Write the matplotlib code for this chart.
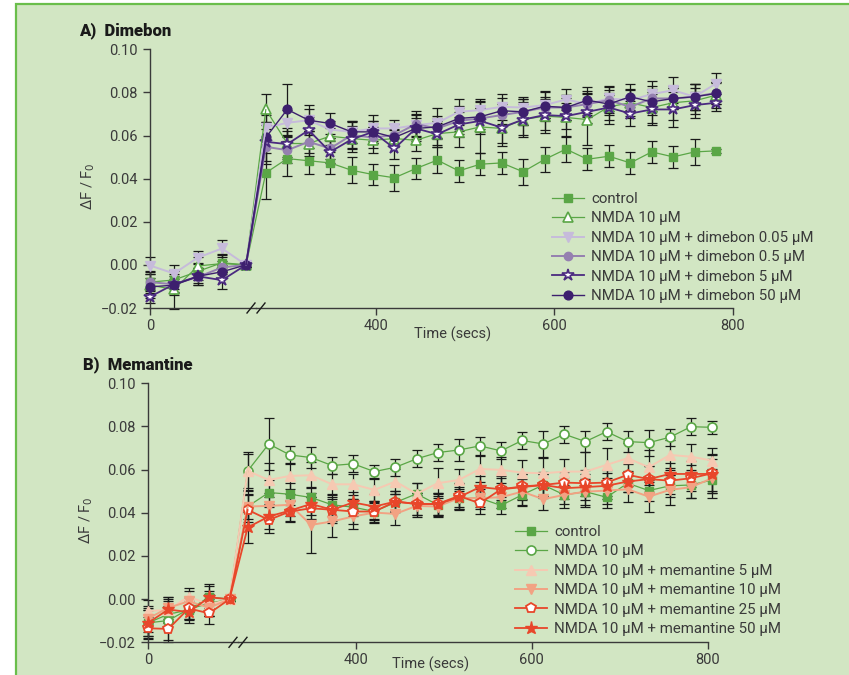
import matplotlib
matplotlib.use("Agg")
import matplotlib.pyplot as plt
from matplotlib.patches import ConnectionPatch, Rectangle

# time points (s): baseline before the break, then after NMDA addition
t_pre = [0, 24, 48, 72, 96]
t_post = [277, 301, 325, 349, 373, 397, 421, 445, 469, 493, 517, 541,
          565, 589, 613, 637, 661, 685, 709, 733, 757, 781, 805]
n_post_a = 22
n_post_b = 23

y_ticks = [-0.02, 0.0, 0.02, 0.04, 0.06, 0.08, 0.10]
x_ticks_left = [0]
x_ticks_right = [400, 600, 800]

# ---- panel A: dimebon ----
labels_a = ["control", "NMDA 10 \u00b5M",
            "NMDA 10 \u00b5M + dimebon 0.05 \u00b5M",
            "NMDA 10 \u00b5M + dimebon 0.5 \u00b5M",
            "NMDA 10 \u00b5M + dimebon 5 \u00b5M",
            "NMDA 10 \u00b5M + dimebon 50 \u00b5M"]
control_a = [-0.008, -0.007, -0.003, 0.001, 0.0,
             0.0427, 0.0493, 0.0483, 0.0473, 0.0439, 0.0419, 0.0404, 0.0447,
             0.0486, 0.0436, 0.0467, 0.0473, 0.0432, 0.0489, 0.0537, 0.0490,
             0.0504, 0.0473, 0.0524, 0.0501, 0.0524, 0.0529]
nmda_a = [-0.0094, -0.0114, -0.0005, 0.0006, 0.0,
          0.0721, 0.0563, 0.0563, 0.0597, 0.0586, 0.0578, 0.0586, 0.0578,
          0.0609, 0.0617, 0.0640, 0.0633, 0.0674, 0.0690, 0.0684, 0.0674,
          0.0733, 0.0752, 0.0730, 0.0752, 0.0761, 0.0787]
dim005 = [-0.0003, -0.004, 0.0034, 0.0076, 0.0,
          0.0637, 0.0659, 0.0671, 0.0628, 0.0617, 0.0633, 0.0633, 0.0648,
          0.0659, 0.0710, 0.0718, 0.0733, 0.0730, 0.0741, 0.0767, 0.0746,
          0.0772, 0.0764, 0.0792, 0.0810, 0.0780, 0.0841]
dim05 = [-0.008, -0.009, -0.0056, -0.0012, 0.0,
         0.0548, 0.0532, 0.0571, 0.0540, 0.0602, 0.0591, 0.0602, 0.0653,
         0.0633, 0.0668, 0.0679, 0.0695, 0.0710, 0.0730, 0.0730, 0.0746,
         0.0764, 0.0733, 0.0772, 0.0772, 0.0780, 0.0798]
dim5 = [-0.0148, -0.009, -0.0053, -0.0071, 0.0,
        0.0571, 0.0560, 0.0625, 0.0524, 0.0582, 0.0617, 0.0540, 0.0633,
        0.0606, 0.0651, 0.0668, 0.0637, 0.0674, 0.0695, 0.0690, 0.0710,
        0.0730, 0.0702, 0.0721, 0.0721, 0.0741, 0.0752]
dim50 = [-0.0102, -0.0094, -0.0053, -0.0032, 0.0,
         0.0591, 0.0721, 0.0671, 0.0656, 0.0617, 0.0617, 0.0591, 0.0633,
         0.0640, 0.0679, 0.0687, 0.0715, 0.0710, 0.0736, 0.0730, 0.0764,
         0.0746, 0.0780, 0.0756, 0.0772, 0.0780, 0.0795]

control_a_err = [0.005, 0.004, 0.004, 0.004, 0.001,
                 0.012, 0.008, 0.006, 0.005, 0.006, 0.005, 0.006, 0.005, 0.006,
                 0.005, 0.005, 0.005, 0.006, 0.006, 0.006, 0.005, 0.005, 0.005,
                 0.005, 0.005, 0.006, 0.001]
nmda_a_err = [0.006, 0.009, 0.004, 0.004, 0.001,
              0.007, 0.007, 0.006, 0.004, 0.005, 0.006, 0.004, 0.005, 0.006,
              0.007, 0.012, 0.008, 0.007, 0.008, 0.009, 0.012, 0.008, 0.006,
              0.007, 0.008, 0.006, 0.006]
dim005_err = [0.004, 0.004, 0.003, 0.004, 0.001,
              0.006, 0.006, 0.005, 0.004, 0.005, 0.006, 0.004, 0.005, 0.007,
              0.006, 0.005, 0.006, 0.005, 0.006, 0.005, 0.006, 0.006, 0.005,
              0.006, 0.006, 0.006, 0.005]
dim05_err = [0.004, 0.004, 0.003, 0.003, 0.001,
             0.008, 0.006, 0.005, 0.005, 0.006, 0.005, 0.005, 0.006, 0.005,
             0.006, 0.005, 0.005, 0.006, 0.005, 0.006, 0.005, 0.006, 0.005,
             0.006, 0.005, 0.006, 0.005]
dim5_err = [0.003, 0.005, 0.004, 0.004, 0.001,
            0.009, 0.006, 0.006, 0.005, 0.006, 0.005, 0.005, 0.005, 0.005,
            0.006, 0.006, 0.007, 0.008, 0.007, 0.006, 0.005, 0.006, 0.006,
            0.007, 0.008, 0.006, 0.004]
dim50_err = [0.004, 0.003, 0.004, 0.003, 0.001,
             0.007, 0.012, 0.007, 0.005, 0.005, 0.005, 0.004, 0.006, 0.005,
             0.006, 0.007, 0.006, 0.006, 0.007, 0.006, 0.006, 0.005, 0.006,
             0.006, 0.005, 0.006, 0.005]

# ---- panel B: memantine ----
labels_b = ["control", "NMDA 10 \u00b5M",
            "NMDA 10 \u00b5M + memantine 5 \u00b5M",
            "NMDA 10 \u00b5M + memantine 10 \u00b5M",
            "NMDA 10 \u00b5M + memantine 25 \u00b5M",
            "NMDA 10 \u00b5M + memantine 50 \u00b5M"]
control_b = [-0.011, -0.007, -0.005, 0.001, 0.0,
             0.0429, 0.0494, 0.0486, 0.0471, 0.0437, 0.0426, 0.0406, 0.0448,
             0.0488, 0.0437, 0.0468, 0.0468, 0.0434, 0.0483, 0.0529, 0.0483,
             0.0498, 0.0472, 0.0537, 0.0503, 0.0525, 0.0529, 0.0552]
nmda_b = [-0.011, -0.0099, -0.0046, -0.002, 0.0,
          0.0594, 0.0719, 0.0668, 0.0656, 0.0619, 0.0627, 0.0591, 0.0611,
          0.0650, 0.0679, 0.0691, 0.0710, 0.0687, 0.0735, 0.0719, 0.0764,
          0.0730, 0.0776, 0.0730, 0.0725, 0.0750, 0.0799, 0.0796]
mem5 = [-0.0055, -0.005, 0.0012, -0.0026, 0.0,
        0.0594, 0.0552, 0.0571, 0.0574, 0.0532, 0.0532, 0.0506, 0.0545,
        0.0488, 0.0537, 0.0552, 0.0603, 0.0599, 0.0586, 0.0583, 0.0591,
        0.0591, 0.0622, 0.0653, 0.0611, 0.0668, 0.0660, 0.0642]
mem10 = [-0.009, -0.004, -0.001, -0.004, 0.0,
         0.0429, 0.0432, 0.0437, 0.0344, 0.0360, 0.0383, 0.0401, 0.0395,
         0.0432, 0.0429, 0.0468, 0.0468, 0.0472, 0.0498, 0.0463, 0.0483,
         0.0498, 0.0503, 0.0509, 0.0475, 0.0506, 0.0519, 0.0560]
mem25 = [-0.0135, -0.0138, -0.0043, -0.0066, 0.0,
         0.0414, 0.0367, 0.0406, 0.0421, 0.0414, 0.0406, 0.0406, 0.0452,
         0.0441, 0.0441, 0.0478, 0.0444, 0.0509, 0.0522, 0.0529, 0.0540,
         0.0537, 0.0540, 0.0576, 0.0556, 0.0549, 0.0560, 0.0583]
mem50 = [-0.011, -0.0048, -0.006, 0.0008, 0.0,
         0.0332, 0.0383, 0.0410, 0.0441, 0.0414, 0.0448, 0.0429, 0.0452,
         0.0441, 0.0441, 0.0472, 0.0519, 0.0509, 0.0519, 0.0529, 0.0514,
         0.0519, 0.0525, 0.0545, 0.0556, 0.0580, 0.0580, 0.0580]

control_b_err = [0.006, 0.004, 0.004, 0.005, 0.001,
                 0.007, 0.006, 0.005, 0.005, 0.005, 0.004, 0.004, 0.004, 0.005,
                 0.005, 0.004, 0.005, 0.004, 0.005, 0.005, 0.004, 0.006, 0.005,
                 0.004, 0.005, 0.005, 0.006, 0.005]
nmda_b_err = [0.007, 0.009, 0.005, 0.006, 0.001,
              0.009, 0.012, 0.004, 0.005, 0.004, 0.004, 0.003, 0.004, 0.004,
              0.004, 0.005, 0.004, 0.004, 0.004, 0.006, 0.004, 0.005, 0.004,
              0.005, 0.006, 0.004, 0.004, 0.003]
mem5_err = [0.005, 0.005, 0.004, 0.005, 0.001,
            0.008, 0.008, 0.006, 0.006, 0.005, 0.005, 0.005, 0.006, 0.005,
            0.007, 0.005, 0.006, 0.006, 0.006, 0.007, 0.006, 0.009, 0.008,
            0.007, 0.008, 0.007, 0.006, 0.006]
mem10_err = [0.006, 0.005, 0.005, 0.004, 0.001,
             0.006, 0.006, 0.005, 0.013, 0.007, 0.006, 0.005, 0.005, 0.005,
             0.005, 0.005, 0.004, 0.005, 0.006, 0.005, 0.006, 0.007, 0.006,
             0.006, 0.007, 0.007, 0.005, 0.009]
mem25_err = [0.005, 0.006, 0.005, 0.005, 0.001,
             0.007, 0.006, 0.005, 0.005, 0.006, 0.006, 0.005, 0.005, 0.005,
             0.005, 0.006, 0.005, 0.005, 0.006, 0.006, 0.005, 0.006, 0.006,
             0.005, 0.006, 0.006, 0.006, 0.009]
mem50_err = [0.006, 0.006, 0.005, 0.006, 0.001,
             0.007, 0.006, 0.005, 0.005, 0.005, 0.005, 0.006, 0.005, 0.005,
             0.005, 0.006, 0.005, 0.006, 0.006, 0.005, 0.005, 0.006, 0.006,
             0.005, 0.006, 0.005, 0.006, 0.009]

BG = "#d2e6c3"
BORDER = "#6abe4b"
TXT = "#3a3a3a"
GREEN = "#5aa646"

styles_a = [
    dict(color=GREEN, marker="s", mfc=GREEN, mec=GREEN, ms=5.5, lw=0.9),
    dict(color=GREEN, marker="^", mfc="white", mec=GREEN, ms=7.5, lw=0.9, mew=1.2),
    dict(color="#c6bbdb", marker="v", mfc="#c6bbdb", mec="#c6bbdb", ms=7.5, lw=1.4),
    dict(color="#9580b0", marker="o", mfc="#9580b0", mec="#9580b0", ms=6, lw=1.4),
    dict(color="#4b2a80", marker="*", mfc="white", mec="#4b2a80", ms=9, lw=1.3, mew=1.2),
    dict(color="#3d1f6e", marker="o", mfc="#3d1f6e", mec="#3d1f6e", ms=6.3, lw=1.0),
]
styles_b = [
    dict(color=GREEN, marker="s", mfc=GREEN, mec=GREEN, ms=5.5, lw=0.9),
    dict(color=GREEN, marker="o", mfc="white", mec=GREEN, ms=6.5, lw=0.9, mew=1.2),
    dict(color="#f6c9b2", marker="^", mfc="#f6c9b2", mec="#f6c9b2", ms=7.5, lw=1.4),
    dict(color="#f2a283", marker="v", mfc="#f2a283", mec="#f2a283", ms=7.5, lw=1.4),
    dict(color="#e8462a", marker="p", mfc="white", mec="#e8462a", ms=7.5, lw=1.3, mew=1.3),
    dict(color="#e8462a", marker="*", mfc="#e8462a", mec="#e8462a", ms=9.5, lw=1.3),
]

plt.rcParams["font.family"] = ["Roboto", "DejaVu Sans"]
plt.rcParams["axes.unicode_minus"] = True

W, H = 849, 675
fig = plt.figure(figsize=(W / 100, H / 100), dpi=100)
fig.patch.set_facecolor("white")
fig.add_artist(Rectangle((15.5 / W, -0.02), 1.1, 1.02 - 4.5 / H,
                         transform=fig.transFigure, facecolor=BG,
                         edgecolor=BORDER, lw=1.6, zorder=-5))


def px_rect(x0, x1, ytop, ybot):
    return [x0 / W, 1 - ybot / H, (x1 - x0) / W, (ybot - ytop) / H]


def draw_panel(x0, xj, x1, ytop, ybot, series, labels, styles, n_post,
               title, title_pos, xlab_pos, leg_pos):
    ax_l = fig.add_axes(px_rect(x0, xj, ytop, ybot))
    ax_r = fig.add_axes(px_rect(xj, x1, ytop, ybot), sharey=ax_l)
    handles = []
    for (vals, errs), st in zip(series, styles):
        pre, post = vals[:5], vals[5:5 + n_post]
        e_pre, e_post = errs[:5], errs[5:5 + n_post]
        tp = t_post[:n_post]
        eb = dict(fmt="none", ecolor="#1a1a1a", elinewidth=0.9, capsize=3.6,
                  capthick=0.9, zorder=2, clip_on=False)
        ax_l.errorbar(t_pre, pre, yerr=e_pre, **eb)
        ax_r.errorbar(tp, post, yerr=e_post, **eb)
        kw = dict(color=st["color"], marker=st["marker"], mfc=st["mfc"],
                  mec=st["mec"], ms=st["ms"], lw=st["lw"],
                  mew=st.get("mew", 1.0), zorder=3, clip_on=False)
        ax_l.plot(t_pre, pre, **kw)
        h, = ax_r.plot(tp, post, **kw)
        handles.append(h)
        con = ConnectionPatch(xyA=(t_pre[-1], pre[-1]), coordsA=ax_l.transData,
                              xyB=(tp[0], post[0]), coordsB=ax_r.transData,
                              color=st["color"], lw=st["lw"], zorder=2.5)
        fig.add_artist(con)

    for ax in (ax_l, ax_r):
        ax.set_facecolor("none")
        for s in ("top", "right"):
            ax.spines[s].set_visible(False)
        for s in ("left", "bottom"):
            ax.spines[s].set_color(TXT)
            ax.spines[s].set_linewidth(1.0)
        ax.tick_params(colors=TXT, labelcolor=TXT, labelsize=10.5, length=5,
                       width=1.0, direction="out")
        ax.tick_params(axis="x", pad=3)
        ax.tick_params(axis="y", pad=4)
    ax_r.spines["left"].set_visible(False)
    ax_r.tick_params(axis="y", left=False, labelleft=False)

    ax_l.set_xlim(0, 106)
    ax_r.set_xlim(266, 800)
    ax_l.set_ylim(y_ticks[0], y_ticks[-1])
    ax_l.set_xticks(x_ticks_left)
    ax_r.set_xticks(x_ticks_right)
    ax_l.set_yticks(y_ticks)
    ax_l.set_yticklabels([f"{v:.2f}".replace("-", "\u2212") for v in y_ticks])

    ax_l.set_ylabel("\u0394F / F$_0$", fontsize=10.5, color=TXT)
    ax_l.yaxis.set_label_coords(-0.5 * 106 / (xj - x0), 0.47)
    ax_r.set_xlabel("Time (secs)", fontsize=10.5, color=TXT)
    ax_r.xaxis.set_label_coords(*xlab_pos)

    # break marks on the x axis
    wr = x1 - xj
    hr = ybot - ytop
    for dx in (-9, 1):
        ax_r.plot([(dx) / wr, (dx + 8) / wr], [-5 / hr, 5 / hr],
                  transform=ax_r.transAxes, color="#1a1a1a", lw=1.0,
                  clip_on=False, zorder=4)

    fig.text(title_pos[0] / W, 1 - title_pos[1] / H, title, fontsize=12,
             fontweight="black", color="#1a1a1a", ha="left", va="center")
    fig.legend(handles, labels, loc="upper left",
               bbox_to_anchor=(leg_pos[0] / W, 1 - leg_pos[1] / H),
               frameon=False, fontsize=10.8, handlelength=2.1,
               handletextpad=0.5, labelspacing=0.36, borderpad=0,
               borderaxespad=0, numpoints=1, labelcolor=TXT)


series_a = [(control_a, control_a_err), (nmda_a, nmda_a_err),
            (dim005, dim005_err), (dim05, dim05_err),
            (dim5, dim5_err), (dim50, dim50_err)]
series_b = [(control_b, control_b_err), (nmda_b, nmda_b_err),
            (mem5, mem5_err), (mem10, mem10_err),
            (mem25, mem25_err), (mem50, mem50_err)]

draw_panel(150, 256, 733, 49.3, 308.0, series_a, labels_a, styles_a, n_post_a,
           "A)  Dimebon", (79, 31), (0.413, -0.072), (552, 192))
draw_panel(148, 238, 707.7, 383.3, 642.3, series_b, labels_b, styles_b, n_post_b,
           "B)  Memantine", (83, 365), (0.409, -0.055), (515, 525))

fig.savefig("out.png", dpi=100, facecolor=fig.get_facecolor())
